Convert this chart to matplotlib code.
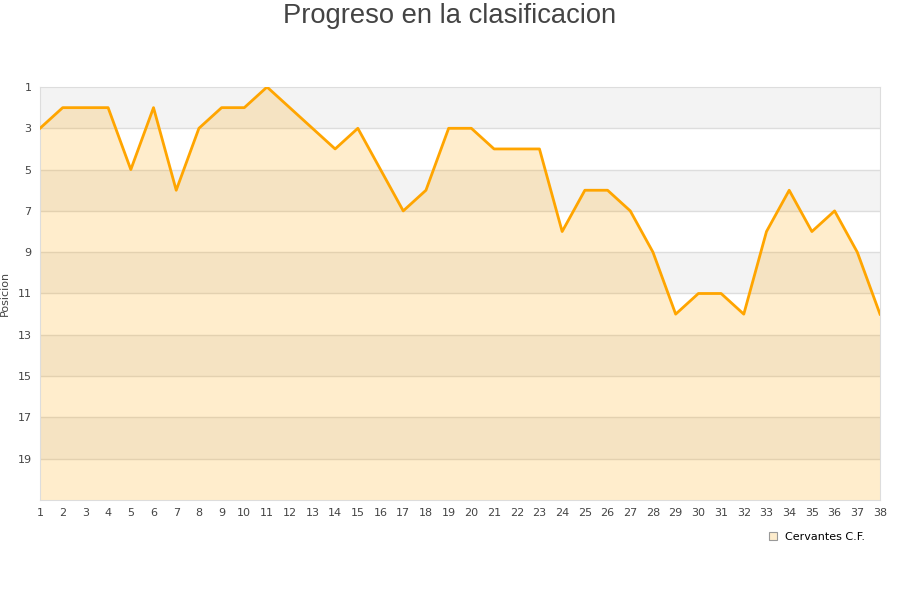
import numpy as np
import matplotlib.pyplot as plt
from matplotlib.lines import Line2D

# jornadas y posicion
jornadas = list(range(1, 39))
posicion = [3, 2, 2, 2, 5, 2, 6, 3, 2, 2, 1, 2, 3, 4, 3, 5, 7, 6, 3, 3,
            4, 4, 4, 8, 6, 6, 7, 9, 12, 11, 11, 12, 8, 6, 8, 7, 9, 12]
yticks = [1, 3, 5, 7, 9, 11, 13, 15, 17, 19]
equipo = 'Cervantes C.F.'

fig = plt.figure(figsize=(9, 6), dpi=100)
ax = fig.add_axes([40/900, 100/600, 840/900, 413/600])

# bandas alternas
for i, y0 in enumerate(range(1, 21, 2)):
    if i % 2 == 0:
        ax.axhspan(y0, y0 + 2, color='#f3f3f3', lw=0, zorder=0)
for y in yticks[1:]:
    ax.axhline(y, color='#dddddd', lw=1, zorder=1)

ax.fill_between(jornadas, posicion, 21, color='#ffa500', alpha=0.2, lw=0, zorder=2)
ax.plot(jornadas, posicion, color='#ffa500', lw=2, zorder=3)

ax.set_xlim(1, 38)
ax.set_ylim(21, 1)
ax.set_xticks(jornadas)
ax.set_yticks(yticks)
ax.tick_params(length=0, labelsize=8, colors='#444444', pad=6)
for s in ax.spines.values():
    s.set_color('#dddddd')
ax.set_ylabel('Posicion', fontsize=8, color='#444444')
ax.yaxis.set_label_coords(-30/840, 0.5)

fig.text(0.5, 1 - 16/600, 'Progreso en la clasificacion', ha='center', va='center',
         fontsize=19.7, color='#444444', family='Liberation Sans')

h = Line2D([], [], marker='s', ls='none', markersize=6,
           markerfacecolor='#fdeccc', markeredgecolor='#999999', markeredgewidth=0.8)
fig.legend([h], [equipo], loc='center left', bbox_to_anchor=(756/900, 1 - 537/600),
           frameon=False, fontsize=8, handletextpad=0.1, borderpad=0)

fig.savefig('out.png', dpi=100)
